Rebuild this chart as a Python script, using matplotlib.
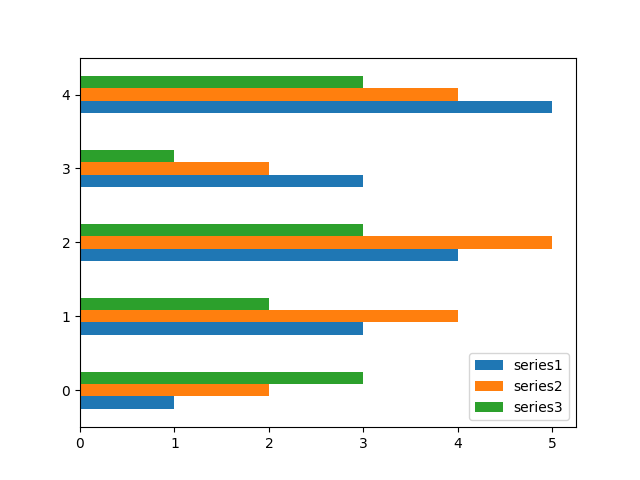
import pandas as pd
import matplotlib
matplotlib.use('Agg')
import matplotlib.pyplot as plt

# valores
series1 = [1, 3, 4, 3, 5]
series2 = [2, 4, 5, 2, 4]
series3 = [3, 2, 3, 1, 3]

df = pd.DataFrame({'series1': series1, 'series2': series2, 'series3': series3})

fig, ax = plt.subplots(figsize=(6.4, 4.8), dpi=100)
df.plot.barh(ax=ax)
plt.savefig('out.png')
